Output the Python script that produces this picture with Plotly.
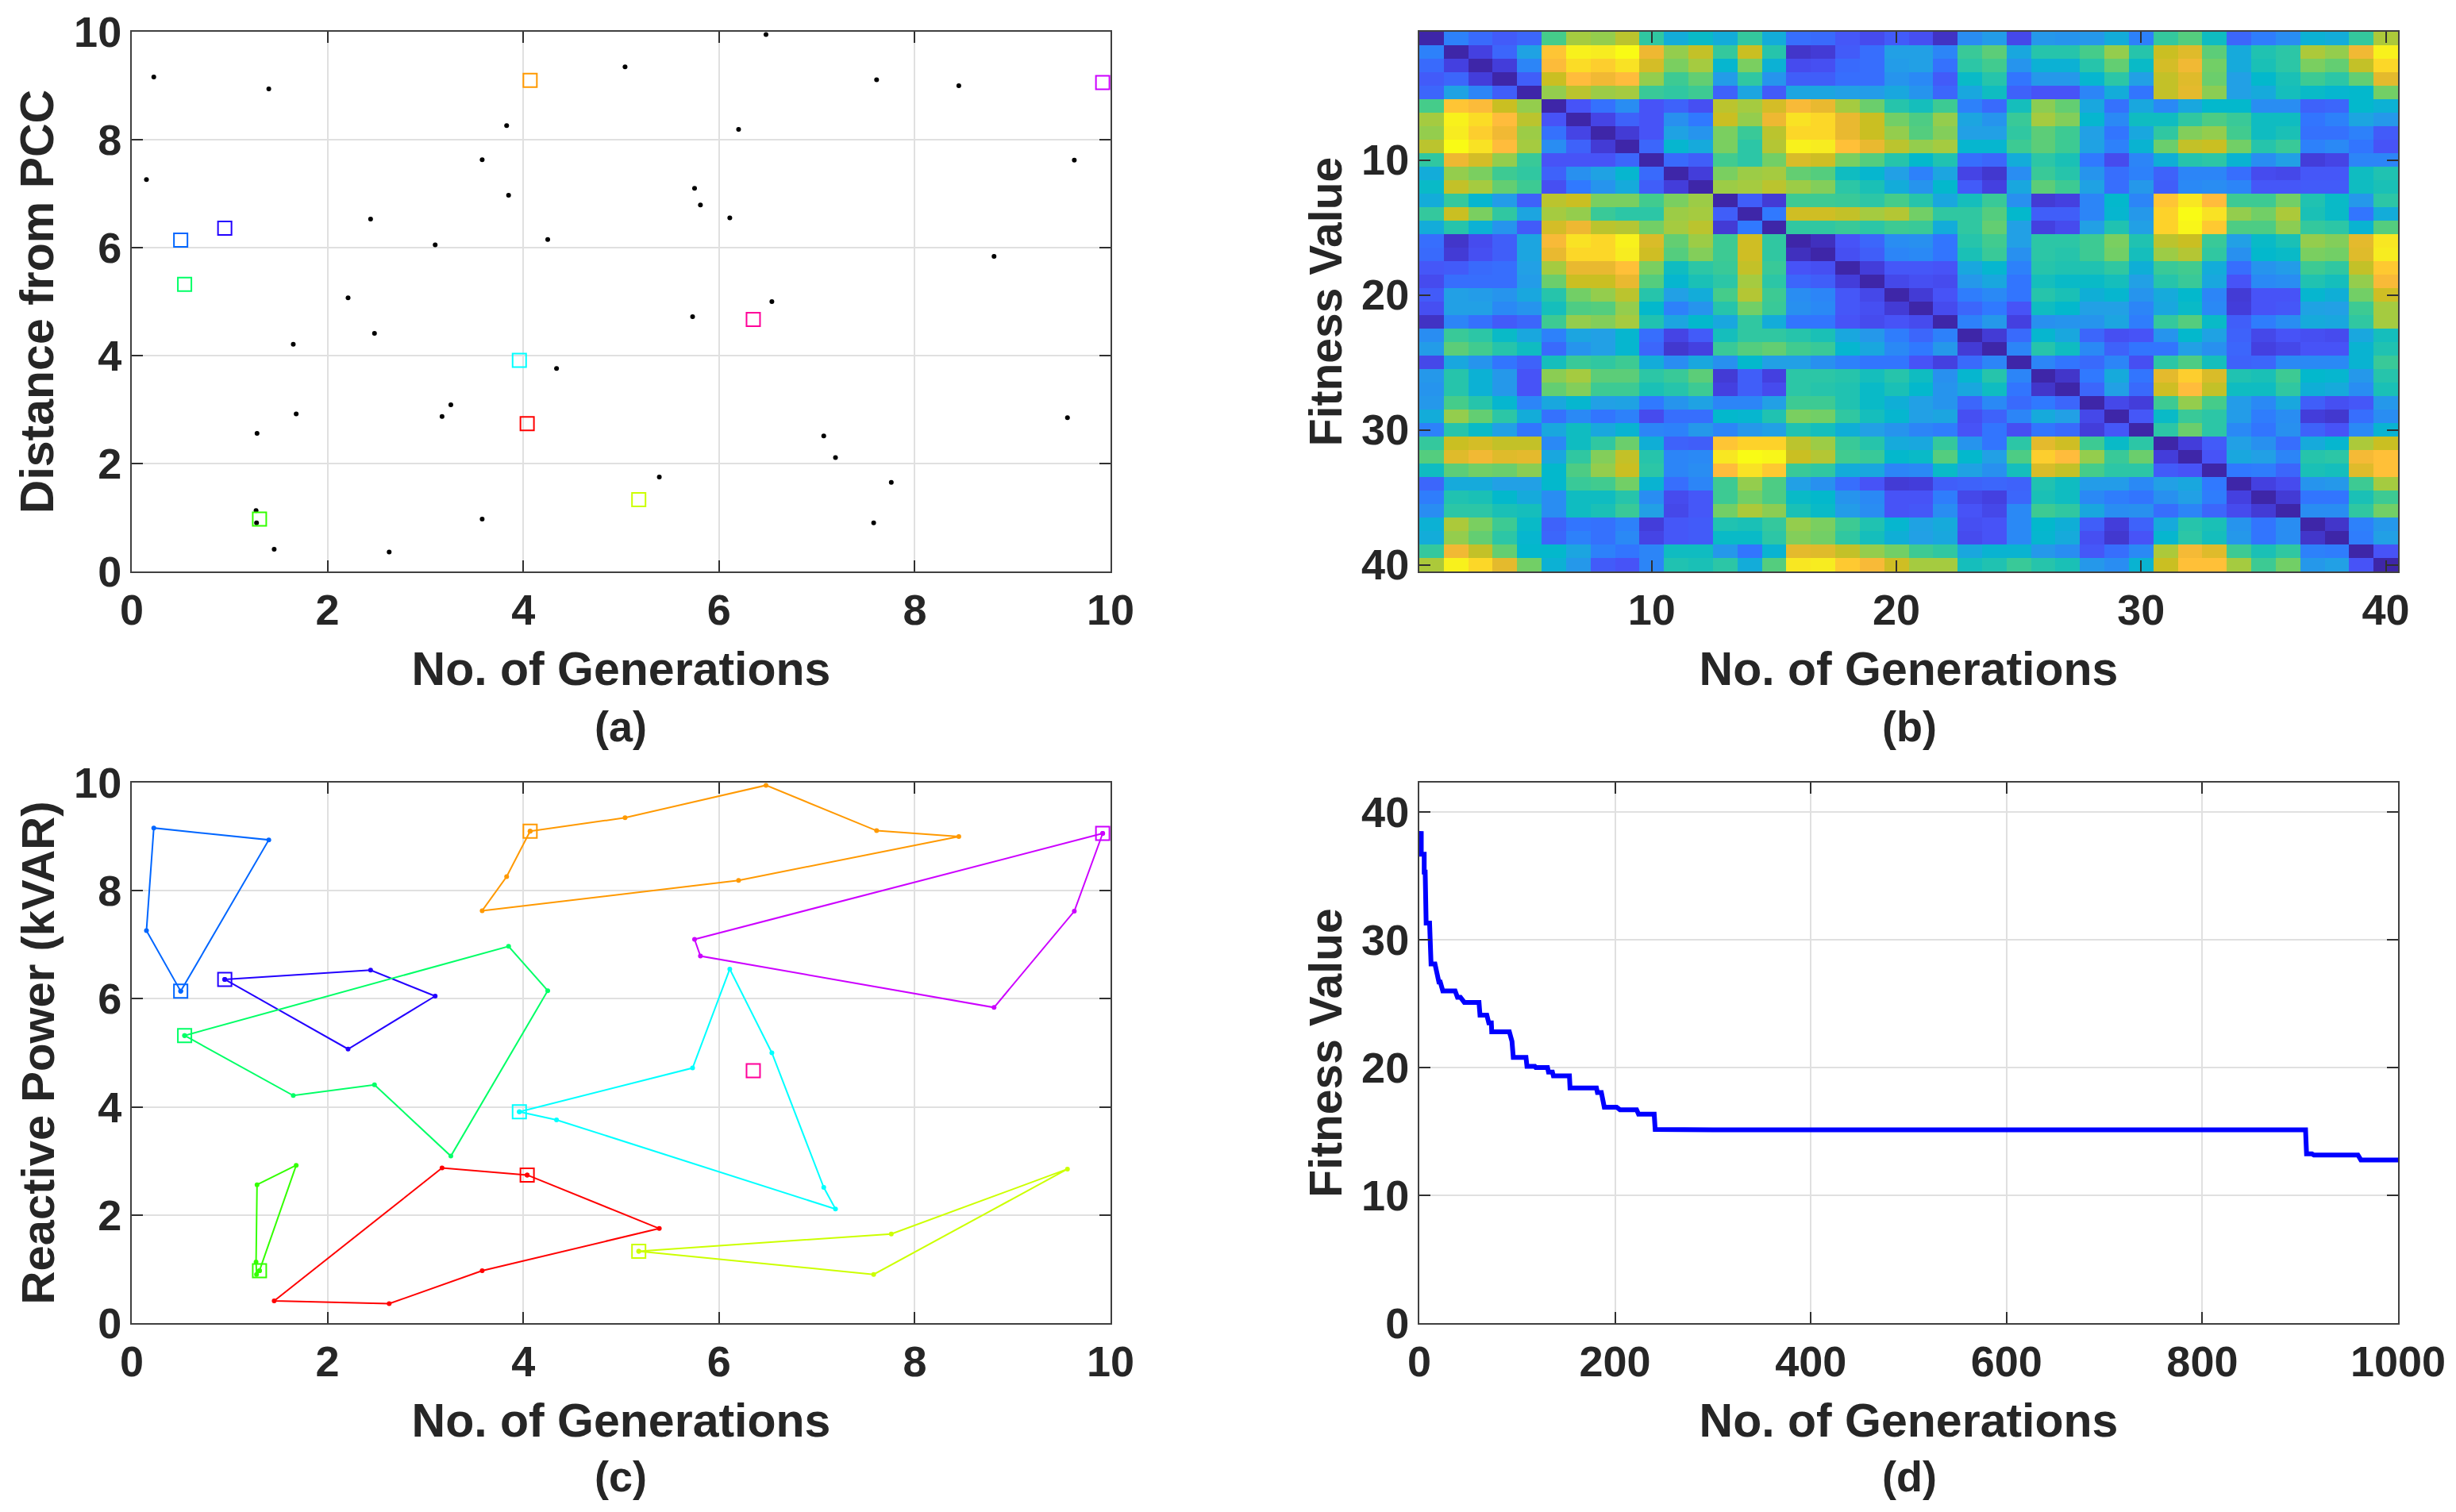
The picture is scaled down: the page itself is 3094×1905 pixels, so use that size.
import plotly.graph_objects as go

W, H = 3094, 1905

# ---- panel (a) / (c): routes, each starts at its depot square ----
route_names = ["blue", "indigo", "spring", "green", "red", "lime", "cyan", "purple", "orange"]
route_colors = ["#0066ff", "#2200ff", "#00ff66", "#33ff00", "#ff0000", "#ccff00", "#00ffff", "#cc00ff", "#ff9900"]
route_x = [
    [0.50, 0.15, 0.225, 1.40, 0.50],
    [0.95, 2.44, 3.10, 2.21, 0.95],
    [0.54, 3.85, 4.25, 3.26, 2.48, 1.65, 0.54],
    [1.305, 1.275, 1.27, 1.28, 1.68, 1.305],
    [4.04, 5.39, 3.58, 2.63, 1.455, 3.17, 4.04],
    [5.18, 7.76, 9.56, 7.58, 5.18],
    [3.96, 5.73, 6.11, 6.54, 7.07, 7.19, 4.34, 3.96],
    [9.92, 9.63, 8.81, 5.81, 5.75, 9.92],
    [4.07, 5.04, 6.48, 7.61, 8.45, 6.20, 3.58, 3.83, 4.07],
]
route_y = [
    [6.14, 7.26, 9.16, 8.94, 6.14],
    [6.36, 6.53, 6.05, 5.07, 6.36],
    [5.32, 6.97, 6.15, 3.09, 4.41, 4.21, 5.32],
    [0.97, 0.90, 1.13, 2.56, 2.92, 0.97],
    [2.74, 1.75, 0.97, 0.36, 0.41, 2.87, 2.74],
    [1.33, 1.65, 2.85, 0.90, 1.33],
    [3.91, 4.72, 6.55, 5.00, 2.51, 2.11, 3.76, 3.91],
    [9.06, 7.62, 5.84, 6.79, 7.10, 9.06],
    [9.10, 9.35, 9.95, 9.11, 9.00, 8.19, 7.63, 8.26, 9.10],
]
lone_x = [6.35]
lone_y = [4.67]
lone_color = "#ff0099"

# ---- panel (d): fitness curve ----
gen = [0, 2, 2, 5, 5, 6, 7, 8, 10.5, 12, 16, 18, 20, 21.4, 24, 36.6, 39, 42, 46, 61, 62, 69, 71, 73.6, 74,
       92, 94, 94.7, 96, 109, 110, 118, 119, 131, 132, 136, 137, 153.4, 154, 181, 182, 186, 189, 201.6, 205,
       222, 224, 240, 241, 300, 905.5, 906.5, 912, 914, 959, 962, 1000]
fit = [36.7, 38.5, 36.7, 36.7, 35.3, 35.3, 31.3, 31.3, 31.3, 28.1, 28.1, 27.4, 26.7, 26.7, 26.0, 26.0, 25.5, 25.5,
       25.1, 25.1, 24.1, 24.1, 23.5, 23.5, 22.8, 22.8, 22.05, 22.05, 20.8, 20.8, 20.1, 20.1, 20.0, 20.0, 19.65,
       19.65, 19.35, 19.35, 18.4, 18.4, 18.05, 18.05, 16.9, 16.9, 16.7, 16.7, 16.35, 16.35, 15.15, 15.12, 15.12,
       13.25, 13.25, 13.15, 13.15, 12.77, 12.77]

# ---- panel (b): symmetric matrix, upper triangle read row by row from the diagonal ----
heat_upper = [
 [0,2.7,2.1,1.7,2.0,5.8,7.0,6.8,7.3,5.3,4.0,4.6,4.0,5.4,4.0,2.2,2.1,1.6,1.3,1.7,1.4,.5,3.0,3.4,1.2,3.3,3.2,3.3,4.0,2.7,5.4,6.0,4.7,2.0,2.6,3.0,4.2,4.0,5.4,7.1],
 [0,1.0,2.0,3.6,8.9,9.8,9.7,10,8.2,6.8,7.4,5.4,7.5,5.1,.6,.8,1.7,2.2,3.5,3.5,2.8,5.5,6.1,3.8,5.1,5.1,5.8,6.8,5.1,7.5,7.9,6.1,3.9,5.0,5.2,7.1,6.8,8.3,9.8],
 [0,.9,2.8,8.6,9.4,9.1,9.5,7.7,6.5,7.0,4.4,6.5,4.2,1.3,1.4,2.1,2.2,3.4,3.5,2.3,5.2,5.7,3.2,4.2,4.2,5.1,6.2,4.6,7.7,8.3,6.4,3.9,4.9,5.2,6.5,6.2,7.4,9.3],
 [0,1.8,7.5,8.7,8.3,8.7,6.8,5.6,6.2,3.4,5.3,3.2,1.8,1.8,2.2,2.2,3.2,2.9,1.7,4.6,5.1,2.4,3.3,3.3,4.4,5.2,3.5,7.4,7.9,6.3,3.5,4.5,4.9,5.6,5.2,6.2,8.0],
 [0,6.8,7.3,6.9,7.0,5.5,5.3,5.6,1.9,3.7,1.7,3.7,3.7,3.5,3.4,3.8,3.2,2.0,3.8,4.7,1.9,1.5,1.5,2.8,4.0,2.4,7.4,8.0,6.7,3.5,3.9,4.8,4.6,4.4,4.5,6.4],
 [0,1.5,2.3,3.0,1.5,1.9,1.4,7.3,7.0,7.7,8.5,8.1,7.0,6.3,5.1,4.8,5.6,2.7,2.1,4.8,6.7,6.2,3.8,2.3,3.8,2.9,3.8,4.5,4.5,3.0,3.0,1.9,2.0,4.5,4.2],
 [0,1.1,1.9,1.5,3.1,2.5,7.5,6.8,8.2,9.5,9.3,8.1,7.5,6.4,5.9,6.8,3.7,3.2,5.5,7.0,6.6,4.4,2.9,4.7,4.7,5.3,5.9,5.5,4.7,4.7,2.4,2.7,3.7,3.3],
 [0,.8,1.5,3.6,3.2,6.5,5.5,7.3,9.3,9.3,8.1,7.5,6.8,6.0,6.6,3.5,3.5,5.3,6.1,5.6,3.5,2.4,3.8,5.3,6.6,6.8,5.7,4.7,4.9,2.3,2.3,2.7,1.7],
 [0,2.0,4.4,3.9,6.5,5.2,7.2,9.8,9.7,8.8,8.1,7.3,6.8,7.0,4.4,4.4,5.6,6.1,5.6,3.6,2.7,4.3,6.3,7.4,7.5,6.4,5.1,5.5,2.7,2.9,2.4,1.5],
 [0,2.1,1.8,5.7,5.2,6.4,7.8,7.6,6.5,6.0,5.1,4.5,5.0,2.2,2.0,4.0,5.2,4.9,2.5,1.3,2.8,4.1,5.1,5.2,4.3,3.0,3.5,.9,1.1,2.8,2.8],
 [0,.9,6.5,6.9,7.0,6.2,6.0,4.7,4.4,3.5,2.7,3.7,1.1,.7,3.0,5.5,5.1,3.2,2.2,2.7,1.9,2.8,2.8,2.2,1.3,1.2,1.6,1.6,4.7,5.0],
 [0,6.9,7.0,7.3,6.9,6.6,5.2,4.9,4.0,3.2,4.5,1.7,1.0,3.8,6.1,5.6,3.6,2.2,3.3,1.8,2.9,3.0,2.8,1.6,1.6,1.7,1.7,4.7,4.9],
 [0,1.8,.8,5.6,5.6,5.5,5.2,5.8,5.1,3.8,4.8,5.5,3.1,.8,1.0,2.8,4.5,2.8,8.9,9.6,8.7,5.6,5.6,6.4,5.0,4.6,3.3,5.2],
 [0,2.5,7.6,7.6,7.4,7.0,7.2,6.4,5.3,5.3,6.0,4.5,1.8,1.8,2.8,4.4,3.3,9.2,10,9.5,6.8,6.4,7.1,4.9,4.6,2.4,4.0],
 [0,5.3,5.3,5.5,5.2,5.6,5.5,4.0,5.3,6.2,3.5,1.0,1.3,3.5,5.0,3.5,9.2,9.9,9.0,5.9,5.9,6.7,5.4,5.2,4.3,6.0],
 [0,.4,1.5,2.0,3.0,3.1,2.4,5.1,5.7,3.5,5.2,5.2,5.6,6.5,5.0,7.3,7.5,5.5,3.5,4.6,4.9,6.8,6.6,8.0,9.6],
 [0,1.4,1.8,2.8,2.9,2.4,4.9,5.5,3.1,5.2,5.1,5.6,6.4,4.8,6.9,7.2,5.3,3.1,4.5,4.6,6.5,6.4,7.9,9.7],
 [0,.9,1.6,1.6,1.5,3.8,4.4,2.7,5.1,5.0,5.0,5.3,4.1,5.5,5.7,4.0,2.2,3.2,3.4,5.6,5.3,7.4,9.0],
 [0,1.2,1.4,1.3,3.3,3.8,2.4,4.8,4.6,4.6,4.8,3.5,5.1,5.5,3.8,1.5,2.9,3.0,5.0,4.8,6.8,8.5],
 [0,.8,1.5,2.6,2.9,2.4,5.1,4.9,4.1,4.4,3.2,3.9,4.5,2.8,.8,1.5,1.5,4.4,4.1,6.4,7.6],
 [0,1.3,2.0,2.5,1.5,4.7,4.5,3.5,3.5,2.8,3.8,4.6,2.9,.9,1.5,1.6,3.6,3.5,5.6,7.0],
 [0,2.7,3.3,1.0,3.1,3.2,3.2,3.7,2.6,5.4,6.0,4.6,1.8,2.6,3.0,3.9,3.8,5.3,7.0],
 [0,.8,2.1,4.4,3.8,2.0,1.4,1.5,3.2,4.5,3.6,1.9,1.2,1.5,1.4,1.3,3.8,4.8],
 [0,2.8,5.1,4.7,2.9,1.9,2.4,2.4,3.5,3.1,2.0,1.0,1.2,1.5,1.5,4.3,5.0],
 [0,2.8,2.4,2.1,2.8,1.4,5.2,5.9,4.8,1.9,2.0,2.9,2.9,2.9,4.3,5.5],
 [0,.6,2.5,3.9,2.4,8.0,9.1,7.8,5.0,4.9,5.6,4.5,4.4,3.3,5.1],
 [0,2.0,3.5,2.1,7.6,8.7,7.4,4.7,4.7,5.3,4.1,3.9,3.0,4.9],
 [0,1.2,.9,5.6,6.8,5.8,3.4,2.9,3.8,1.8,1.4,1.6,3.3],
 [0,1.6,4.6,5.5,5.2,3.4,2.6,3.0,.9,.7,2.2,3.0],
 [0,5.2,6.3,5.2,2.9,2.4,3.1,1.9,1.5,2.9,4.3],
 [0,.9,1.7,3.5,3.1,2.2,3.9,4.4,7.1,7.5],
 [0,1.5,3.8,3.5,2.8,5.1,5.2,8.4,8.8],
 [0,2.5,2.6,2.0,4.9,4.8,7.9,8.8],
 [0,1.0,1.3,3.2,3.3,5.6,7.0],
 [0,.8,2.4,2.4,4.9,5.6],
 [0,3.0,3.0,5.3,6.4],
 [0,.6,2.7,3.3],
 [0,2.6,3.5],
 [0,1.5],
 [0],
]
heat_labels = list(range(1, 41))

colors_stops = [
    [0.00, "#3e26a8"], [0.10, "#4440e0"], [0.15, "#4753f7"], [0.25, "#3079ff"], [0.35, "#22a0e5"],
    [0.45, "#03b8cc"], [0.52, "#2cc6a6"], [0.58, "#45cc8a"], [0.65, "#7acf60"], [0.70, "#a5cb40"],
    [0.75, "#cabf22"], [0.82, "#eeb832"], [0.87, "#ffbc3c"], [0.92, "#fdd22a"], [0.97, "#f7ec20"],
    [1.00, "#f9fb15"],
]

z = [[0.0] * 40 for _ in range(40)]
for i, row in enumerate(heat_upper):
    for k, v in enumerate(row):
        z[i][i + k] = v
        z[i + k][i] = v

fig = go.Figure()

def px_dom(a, b, total):
    return [a / total, b / total]

def py_dom(top, bottom):
    return [1 - bottom / H, 1 - top / H]

FONT = "Liberation Sans"
INK = "#262626"
GRID = "#e0e0e0"
TICK = dict(family=FONT, size=54, color=INK, weight=700)

def axis(domain, anchor, title, tickvals, rng, size, standoff, grid=True):
    return dict(
        domain=domain, anchor=anchor, range=rng, tickvals=tickvals,
        ticktext=[str(v) for v in tickvals], tickfont=TICK, ticklabelstandoff=0,
        title=dict(text=title, font=dict(family=FONT, size=size, color=INK, weight=700), standoff=standoff),
        showgrid=grid, gridcolor=GRID, gridwidth=2, zeroline=False, showline=True,
        linecolor="#404040", linewidth=2, mirror="allticks", ticks="inside", ticklen=14,
        tickwidth=2, tickcolor="#303030", automargin=False,
    )

dx1, dx2 = px_dom(166, 1399, W), px_dom(1788, 3021, W)
dy1, dy2 = py_dom(40, 720), py_dom(986, 1667)
t10 = [0, 2, 4, 6, 8, 10]

# (a)
all_x = [v for r in route_x for v in r[1:-1]]
all_y = [v for r in route_y for v in r[1:-1]]
fig.add_trace(go.Scatter(x=all_x, y=all_y, mode="markers", showlegend=False,
                         marker=dict(color="black", size=6), xaxis="x", yaxis="y"))
for xs, ys, col in zip(route_x, route_y, route_colors):
    fig.add_trace(go.Scatter(x=xs[:1], y=ys[:1], mode="markers", showlegend=False, xaxis="x", yaxis="y",
                             marker=dict(symbol="square-open", color=col, size=17, line=dict(color=col, width=2))))
fig.add_trace(go.Scatter(x=lone_x, y=lone_y, mode="markers", showlegend=False, xaxis="x", yaxis="y",
                         marker=dict(symbol="square-open", color=lone_color, size=17, line=dict(color=lone_color, width=2))))

# (b)
fig.add_trace(go.Heatmap(z=z, x=heat_labels, y=heat_labels, colorscale=colors_stops, zmin=0, zmax=10,
                         showscale=False, xaxis="x2", yaxis="y2"))

# (c)
for xs, ys, col, name in zip(route_x, route_y, route_colors, route_names):
    fig.add_trace(go.Scatter(x=xs, y=ys, mode="lines+markers", name=name, showlegend=False, xaxis="x3", yaxis="y3",
                             line=dict(color=col, width=2), marker=dict(color=col, size=6)))
    fig.add_trace(go.Scatter(x=xs[:1], y=ys[:1], mode="markers", showlegend=False, xaxis="x3", yaxis="y3",
                             marker=dict(symbol="square-open", color=col, size=17, line=dict(color=col, width=2))))
fig.add_trace(go.Scatter(x=lone_x, y=lone_y, mode="markers", showlegend=False, xaxis="x3", yaxis="y3",
                         marker=dict(symbol="square-open", color=lone_color, size=17, line=dict(color=lone_color, width=2))))

# (d)
fig.add_trace(go.Scatter(x=gen, y=fit, mode="lines", showlegend=False, xaxis="x4", yaxis="y4",
                         line=dict(color="#0000ff", width=6)))

XT, XS = 59, 25
YSTAND = 6
fig.update_layout(
    width=W, height=H, margin=dict(l=0, r=0, t=0, b=0), paper_bgcolor="white", plot_bgcolor="white",
    font=dict(family=FONT, color=INK),
    xaxis=axis(dx1, "y", "No. of Generations", t10, [0, 10], XT, XS),
    yaxis=axis(dy1, "x", "Distance from PCC", t10, [0, 10], 59, YSTAND),
    xaxis2=axis(dx2, "y2", "No. of Generations", [10, 20, 30, 40], [0.5, 40.5], XT, XS, grid=False),
    yaxis2=axis(dy1, "x2", "Fitness Value", [10, 20, 30, 40], [40.5, 0.5], 57, YSTAND, grid=False),
    xaxis3=axis(dx1, "y3", "No. of Generations", t10, [0, 10], XT, XS),
    yaxis3=axis(dy2, "x3", "Reactive Power (kVAR)", t10, [0, 10], 58, YSTAND),
    xaxis4=axis(dx2, "y4", "No. of Generations", [0, 200, 400, 600, 800, 1000], [0, 1000], XT, XS),
    yaxis4=axis(dy2, "x4", "Fitness Value", [0, 10, 20, 30, 40], [0, 42.3], 57, YSTAND),
)
for txt, cx, cy in [("(a)", 782, 915), ("(b)", 2405, 915), ("(c)", 782, 1860), ("(d)", 2405, 1860)]:
    fig.add_annotation(text=txt, xref="paper", yref="paper", x=cx / W, y=1 - cy / H, showarrow=False,
                       xanchor="center", yanchor="middle",
                       font=dict(family=FONT, size=54, color=INK, weight=700))

fig.write_html("out.html", config={"displayModeBar": False},
               post_script="document.body.style.margin='0';document.documentElement.style.overflow='hidden';")
